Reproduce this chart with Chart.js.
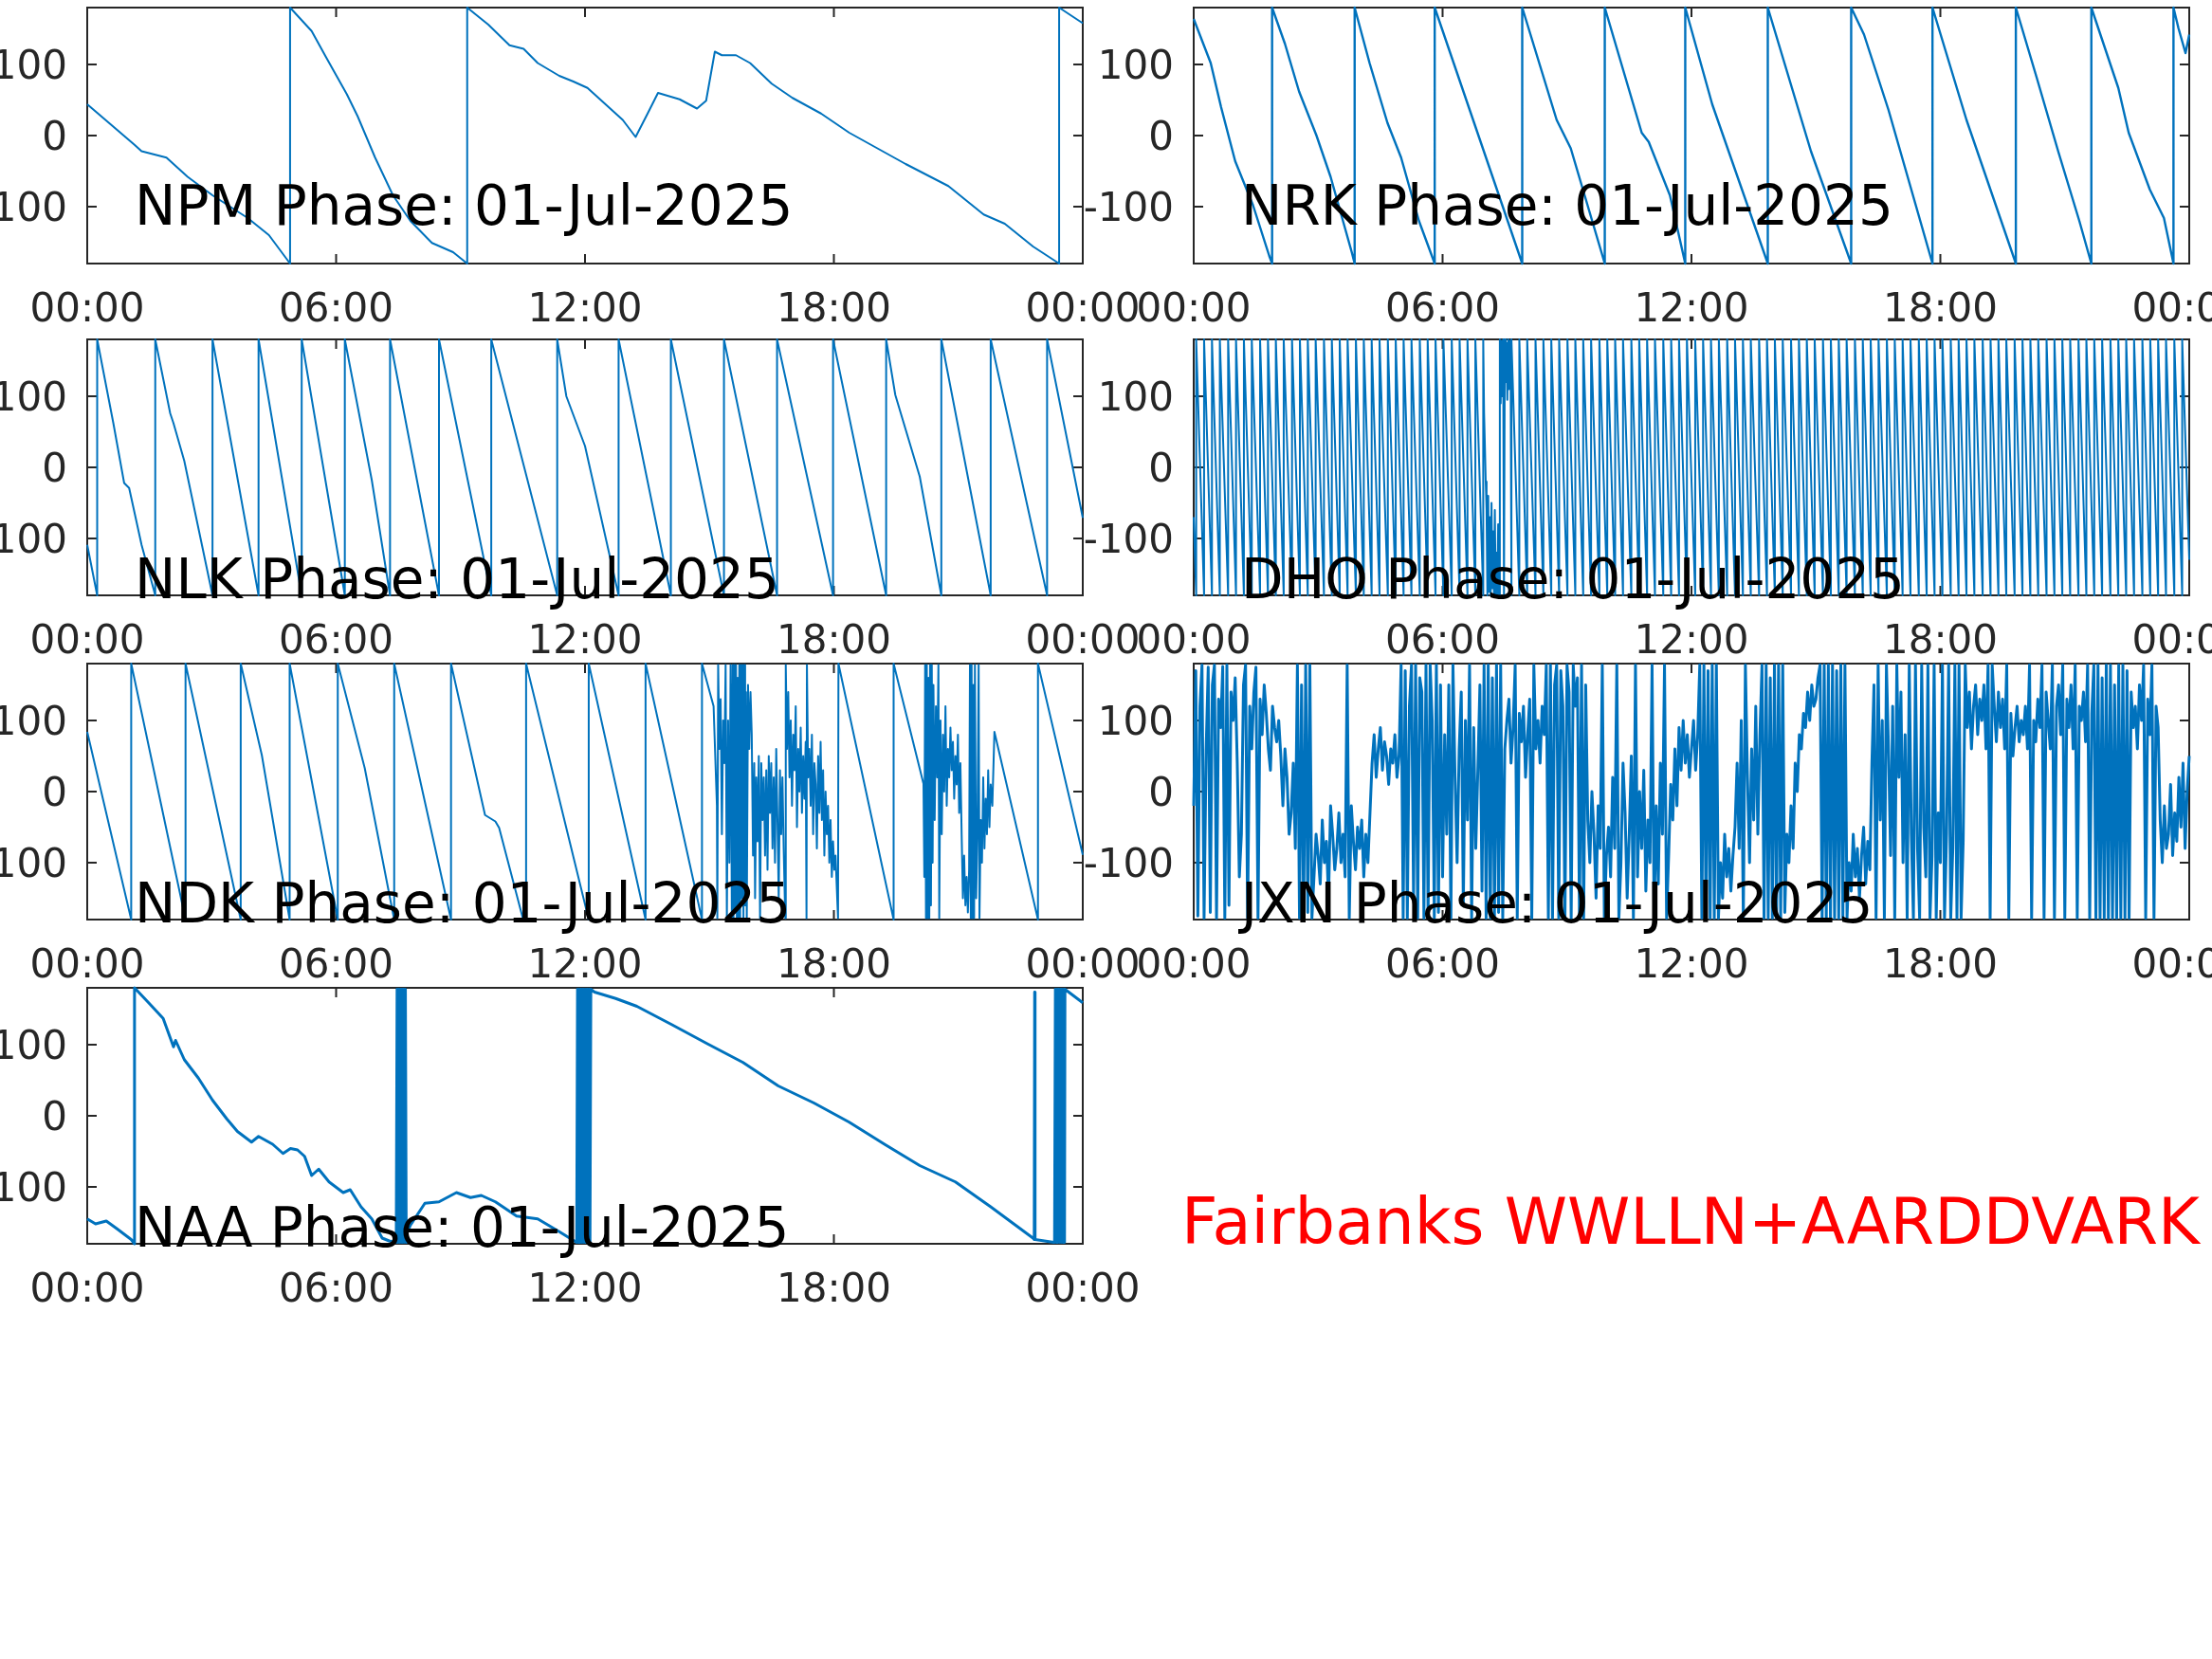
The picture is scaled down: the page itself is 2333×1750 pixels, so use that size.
<!DOCTYPE html>
<html lang="en">
  <head>
    <meta charset="UTF-8" />
    <title>VLF Phase 01-Jul-2025</title>
    <script src="https://cdn.jsdelivr.net/npm/chart.js"></script>
    <style>
      html, body { margin: 0; padding: 0; background: #fff; overflow: hidden; }
      body { width: 2333px; height: 1750px; position: relative; }
      canvas { position: absolute; }
      #site {
        position: absolute; left: 1246px; top: 1256px;
        font-family: "DejaVu Sans", sans-serif; font-size: 67px; line-height: 67px;
        color: #ff0000; white-space: nowrap;
      }
    </style>
  </head>
  <body>
    <canvas id="npmChart" width="1270" height="390" style="left:-28px;top:-42px"></canvas>
    <canvas id="nrkChart" width="1270" height="390" style="left:1139px;top:-42px"></canvas>
    <canvas id="nlkChart" width="1270" height="390" style="left:-28px;top:308px"></canvas>
    <canvas id="dhoChart" width="1270" height="390" style="left:1139px;top:308px"></canvas>
    <canvas id="ndkChart" width="1270" height="390" style="left:-28px;top:650px"></canvas>
    <canvas id="jxnChart" width="1270" height="390" style="left:1139px;top:650px"></canvas>
    <canvas id="naaChart" width="1270" height="390" style="left:-28px;top:992px"></canvas>
    <div id="site">Fairbanks WWLLN+AARDDVARK</div>

    <script>
      // axes
      const hourTicks = [0, 6, 12, 18, 24];
      const hourLabels = ["00:00", "06:00", "12:00", "18:00", "00:00"];
      const phaseTicks = [-100, 0, 100];
      const dateLabel = "01-Jul-2025";

      // NPM (hours, degrees) - a wrap is two points at the same hour
      const npmHours = [0, 1.14, 1.31, 1.91, 2.42, 3.02, 3.87, 4.38, 4.89, 4.89, 5.41, 5.75, 6.26, 6.52, 6.94,
        7.37, 7.79, 8.31, 8.82, 9.16, 9.16, 9.67, 10.18, 10.52, 10.86, 11.38, 11.72, 12.06, 12.40, 12.91,
        13.22, 13.51, 13.76, 14.28, 14.70, 14.92, 15.13, 15.30, 15.64, 15.98, 16.50, 17.00, 17.69, 18.37,
        19.05, 19.73, 20.76, 21.61, 22.12, 22.80, 23.43, 23.43, 24.0];
      const npmPhase = [44, -13, -22, -31, -58, -84, -116, -140, -180, 180, 147, 111, 58, 27, -31,
        -84, -120, -151, -164, -180, 180, 156, 127, 122, 102, 84, 76, 67, 49, 22,
        -2, 31, 60, 51, 38, 49, 118, 113, 113, 102, 73, 53, 31, 4,
        -18, -40, -71, -111, -124, -156, -180, 180, 158];

      // NRK
      const nrkHours = [0, 0.41, 0.66, 1.00, 1.43, 1.82, 1.89, 1.89, 2.20, 2.54, 2.96, 3.30, 3.81, 3.88, 3.88,
        4.24, 4.67, 5.00, 5.43, 5.81, 5.81, 7.92, 7.92, 8.75, 9.09, 9.91, 9.91, 10.80, 10.97, 11.48,
        11.85, 11.85, 12.50, 13.84, 13.84, 14.88, 15.85, 15.85, 16.16, 16.75, 17.81, 17.81, 18.63,
        19.82, 19.82, 20.33, 20.84, 21.35, 21.64, 21.64, 22.29, 22.54, 23.05, 23.39, 23.62, 23.62,
        23.74, 23.91, 24.0];
      const nrkPhase = [164, 102, 40, -36, -98, -169, -180, 180, 129, 62, 0, -58, -164, -180, 180,
        102, 18, -31, -120, -180, 180, -180, 180, 22, -18, -180, 180, 4, -9, -84,
        -180, 180, 44, -180, 180, -22, -180, 180, 142, 36, -180, 180, 22,
        -180, 180, 80, -22, -120, -180, 180, 67, 4, -76, -116, -180, 180,
        151, 116, 142];

      // NLK
      const nlkHours = [0, 0.24, 0.24, 0.63, 0.89, 1.01, 1.31, 1.64, 1.64, 2.00, 2.08, 2.34, 3.02, 3.02,
        4.13, 4.13, 5.17, 5.17, 6.21, 6.21, 6.86, 7.30, 7.30, 8.48, 8.48, 9.74, 9.74, 11.33, 11.33,
        11.55, 12.00, 12.81, 12.81, 14.07, 14.07, 15.35, 15.35, 16.63, 16.63, 17.98, 17.98, 19.26,
        19.26, 19.48, 20.07, 20.59, 20.59, 21.78, 21.78, 23.14, 23.14, 24.0];
      const nlkPhase = [-109, -180, 180, 62, -22, -29, -109, -180, 180, 76, 62, 9, -180, 180,
        -180, 180, -180, 180, -180, 180, -18, -180, 180, -180, 180, -180, 180, -180, 180,
        100, 30, -180, 180, -180, 180, -180, 180, -180, 180, -180, 180, -180,
        180, 102, -13, -180, 180, -180, 180, -180, 180, -71];

      // DHO: hours of the -180 -> +180 wraps, plus the disturbed stretch near 07:15
      const dhoStartPhase = -70;
      const dhoEndPhase = -130;
      const dhoWraps = [0.06, 0.25, 0.44, 0.63, 0.83, 1.02, 1.21, 1.40, 1.60, 1.79,
        1.98, 2.17, 2.37, 2.56, 2.75, 2.94, 3.14, 3.33, 3.52, 3.71,
        3.91, 4.10, 4.29, 4.48, 4.68, 4.87, 5.06, 5.25, 5.45, 5.64,
        5.83, 6.02, 6.22, 6.41, 6.60, 6.79, 6.98, 7.66, 7.85, 8.04,
        8.24, 8.43, 8.62, 8.81, 9.01, 9.20, 9.39, 9.58, 9.78, 9.97,
        10.16, 10.35, 10.55, 10.74, 10.93, 11.12, 11.32, 11.51, 11.70, 11.89,
        12.09, 12.28, 12.47, 12.66, 12.86, 13.05, 13.24, 13.43, 13.63, 13.82,
        14.01, 14.20, 14.40, 14.59, 14.78, 14.97, 15.17, 15.36, 15.55, 15.74,
        15.94, 16.13, 16.32, 16.51, 16.71, 16.90, 17.09, 17.28, 17.48, 17.67,
        17.86, 18.05, 18.25, 18.44, 18.63, 18.82, 19.02, 19.21, 19.40, 19.59,
        19.79, 19.98, 20.17, 20.36, 20.56, 20.75, 20.94, 21.13, 21.33, 21.52,
        21.71, 21.90, 22.10, 22.29, 22.48, 22.67, 22.87, 23.06, 23.25, 23.44,
        23.64, 23.83];
      const dhoBurstHours = [7.00, 7.02, 7.04, 7.06, 7.08, 7.10, 7.12, 7.14, 7.16, 7.18, 7.20, 7.22, 7.24,
        7.26, 7.28, 7.30, 7.32, 7.34, 7.36, 7.38, 7.40, 7.42, 7.44, 7.46, 7.48, 7.50, 7.52, 7.54,
        7.56, 7.58, 7.60, 7.62, 7.64];
      const dhoBurstPhase = [77, 30, -20, -60, -180, -40, -175, -70, -180, -50, -170, -90, -180,
        -60, -180, -120, -178, -80, -180, 180, 90, 178, 100, 180, -180, 180, 120, 175,
        95, 180, 110, 178, 150];

      // NDK
      const ndkHours = [0, 1.06, 1.06, 2.37, 2.37, 3.70, 3.70, 4.21, 4.88, 4.88, 6.04, 6.04, 6.69, 7.40, 7.40,
        8.77, 8.77, 9.59, 9.84, 9.93, 10.50, 10.58, 10.58, 12.09, 12.09, 13.46, 13.46, 14.82, 14.82,
        15.10, 15.18, 15.19, 15.21,
        15.24, 15.27, 15.30, 15.33, 15.36, 15.39, 15.42, 15.45, 15.48, 15.51, 15.54, 15.56, 15.58,
        15.60, 15.62, 15.64, 15.66, 15.68, 15.70, 15.72, 15.74, 15.76, 15.78, 15.80, 15.82, 15.84,
        15.86, 15.88, 15.90, 15.93, 15.96, 15.99, 16.02, 16.05, 16.08, 16.10, 16.13, 16.16, 16.19,
        16.22, 16.25, 16.28, 16.31, 16.34, 16.37, 16.40, 16.43, 16.46, 16.49, 16.52, 16.55, 16.58,
        16.61, 16.64, 16.67, 16.70, 16.73, 16.76, 16.79, 16.82, 16.83, 16.84, 16.87, 16.90, 16.93,
        16.96, 16.99, 17.02, 17.05, 17.08, 17.11, 17.14, 17.17, 17.20, 17.23, 17.26, 17.29, 17.32,
        17.34, 17.35, 17.38, 17.41, 17.44, 17.47, 17.50, 17.53, 17.56, 17.59, 17.62, 17.65, 17.68,
        17.71, 17.74, 17.77, 17.80, 17.83, 17.86, 17.89, 17.92, 17.95, 17.98, 18.01, 18.04, 18.08,
        18.10, 18.11, 19.44, 19.44,
        20.16, 20.18, 20.20, 20.22, 20.24, 20.26, 20.28, 20.30, 20.32, 20.34, 20.36, 20.38, 20.40,
        20.43, 20.46, 20.49, 20.52, 20.54, 20.57, 20.60, 20.63, 20.66, 20.69, 20.72, 20.75, 20.78,
        20.81, 20.84, 20.87, 20.90, 20.93, 20.96, 20.99, 21.02, 21.05, 21.08, 21.11, 21.14, 21.17,
        21.20, 21.23, 21.26, 21.28, 21.30, 21.32, 21.34, 21.36, 21.38, 21.40, 21.43, 21.46, 21.49,
        21.51, 21.54, 21.57, 21.60, 21.63, 21.66, 21.69, 21.72, 21.75, 21.78, 21.82, 21.87,
        22.92, 22.92, 24.0];
      const ndkPhase = [84, -180, 180, -180, 180, -180, 180, 51, -180, 180, -180, 180, 33, -180, 180,
        -180, 180, -33, -42, -51, -178, -180, 180, -180, 180, -180, 180, -180, 180,
        120, -20, -178, 178,
        60, 130, -60, 100, 40, 178, -178, 100, -100, 178, -178, 178, -178,
        178, -170, 178, -178, 160, -178, 178, -178, 178, -150, 178, -178, 178,
        -160, 140, -178, 150, 60, 140, 80, -90, 40, -150, 20, -70, 50,
        -178, 40, -40, 20, -90, 30, -110, 50, -30, 40, -80, 20, -100,
        60, -40, -150, 30, -60, 20, -80, -160, -178, 178, 60, 140, 20,
        100, -20, 80, 30, 120, -50, 60, 0, 90, -30, 50, -10, 70,
        -178, 178, 20, 60, -20, 80, -60, 40, 10, -80, 50, -30, 70,
        -40, 30, -90, 0, -60, -20, -100, -40, -120, -70, -110, -90, -150,
        -178, 180, -180, 180,
        11, -120, 178, -178, 178, -178, 160, -178, 178, -160, 178, -100, 150,
        -40, 120, 20, 178, -178, 100, -60, 80, 0, 120, -20, 60, 20,
        90, 30, 70, -10, 50, 10, 80, -30, 40, -60, -150, -90, -160,
        -120, -170, -110, 178, -178, 178, -178, 150, -178, 178, -150, -60, 178,
        -178, -40, -100, 20, -80, -10, -60, 30, -50, 10, -20, 84,
        -180, 180, -89];

      // JXN: one reading every 3 minutes (0.05 h), one row per hour
      const jxnStepHours = 0.05;
      const jxnPhase = [
        -20, 170, -175, 120, 178, -178, 60, 175, -170, 150, 178, -178, 130, 90, 176, -178, 178, -160, 140, 100,
        160, 40, -120, -60, 150, 178, -178, 120, 60, 140, 175, -178, 130, 80, 150, 110, 60, 30, 120, 90,
        70, 100, 50, -20, 60, 20, -60, -30, 40, -80, 178, -178, 150, -178, 178, -170, 178, -178, -120, -60,
        -90, -130, -40, -100, -70, -150, -20, -60, -110, -80, -30, -100, -60, -120, 178, -178, -20, -70, -110, -50,
        -80, -40, -120, -60, -100, -30, 40, 80, 20, 60, 90, 30, 70, 50, 10, 60, 40, 80, 20, 50,
        178, -178, 170, -178, 120, 178, -150, 178, -178, 160, 140, -178, 178, -178, 178, 100, -178, 178, -170, 150,
        -120, 80, -60, 150, -178, 178, 20, -100, 60, 140, -160, 100, -40, 178, -178, 90, -80, 30, 150, -140,
        178, -178, 178, -178, 160, -178, 178, -170, 178, -178, 60, 100, 130, 40, 90, 178, -178, 110, 70, 120,
        20, 80, 130, -178, 178, 60, 100, 40, 120, 80, 178, -178, 178, -178, 150, 178, -178, 170, 120, -178,
        178, 140, -178, 178, 120, 160, -178, 178, -178, 150, -40, -100, 0, -60, -150, -20, -80, 178, -178, -90,
        -50, -120, 20, -80, 178, -178, -100, 40, -30, -150, -60, 50, -178, 178, -120, 0, -80, 30, -140, -40,
        -100, 178, -178, -20, -130, 40, -60, 178, -178, -90, 10, -40, 60, -20, 90, 30, 100, 40, 80, 20,
        60, 100, 30, 80, 178, -178, 178, -178, 170, -178, 178, -178, 178, -178, -100, -150, -60, -120, -80, -140,
        -90, -50, 40, -80, 100, -178, 178, 20, -100, 60, -40, 120, -60, 80, 178, -178, 178, -178, 160, -178,
        178, -178, 178, -178, 178, -170, -60, -100, -20, -80, 40, 0, 80, 60, 110, 90, 140, 100, 150, 120,
        130, 160, 178, -178, 178, -178, 178, -178, 178, -178, 170, -178, 178, -178, 178, -178, -100, -140, -60, -120,
        -80, -150, -90, -50, -130, -70, -110, 40, 150, -178, 178, -40, 100, -178, 178, 60, -90, 120, -178, 178,
        20, 140, -100, 80, -178, 178, -60, -178, 178, -80, -178, 178, -50, -120, 178, -178, -90, 178, -178, -30,
        -100, 178, -178, -60, 178, -178, -80, 178, -178, 178, -178, -70, 178, 90, 140, 60, 120, 150, 80, 130,
        100, 150, 60, 178, -178, 178, 120, 70, 140, 90, 130, 60, 178, -178, 110, 50, 90, 120, 70, 100,
        80, 120, 60, 178, -178, 100, 70, 130, 90, 178, -178, 140, 100, 60, 178, -178, 120, 150, 80, 178,
        -178, 130, 90, 150, 60, 178, -178, 120, 100, 140, 70, 178, -178, 110, 178, -178, 178, -178, 160, -178,
        178, -178, 178, -178, 150, -178, 178, -178, 178, -178, 170, -178, 140, 90, 120, 60, 150, 100, 178, -178,
        130, 80, 178, -178, 120, 90, -40, -100, -20, -80, -60, 10, -90, -30, -70, 20, -50, 40, -80, 0,
        50];

      // NAA
      const naaHours = [0, 0.20, 0.46, 0.72, 1.06, 1.14, 1.14, 1.48, 1.83, 2.08, 2.13, 2.34, 2.68, 3.02, 3.36,
        3.62, 3.96, 4.13, 4.47, 4.72, 4.90, 5.07, 5.24, 5.41, 5.58, 5.83, 6.17, 6.34, 6.60, 6.86,
        7.11, 7.28,
        7.45, 7.47, 7.49, 7.51, 7.53, 7.55, 7.57, 7.59, 7.61, 7.63, 7.65, 7.67, 7.69, 7.71,
        7.79, 8.14, 8.48, 8.90, 9.24, 9.50, 9.84, 10.35, 10.86, 11.38, 11.63,
        11.80, 11.82, 11.84, 11.86, 11.88, 11.90, 11.92, 11.94, 11.96, 11.98, 12.00, 12.02, 12.04,
        12.06, 12.08, 12.10, 12.12, 12.14,
        12.23, 12.74, 13.25, 14.10, 14.96, 15.81, 16.66, 17.52, 18.37, 19.22, 20.07, 20.93, 21.78,
        22.80, 22.83, 22.84, 22.85, 23.30,
        23.32, 23.34, 23.36, 23.38, 23.40, 23.42, 23.44, 23.46, 23.48, 23.50, 23.52, 23.54, 23.56,
        23.57, 24.0];
      const naaPhase = [-145, -152, -148, -159, -174, -180, 180, 159, 137, 97, 106, 79, 53, 22, -4,
        -22, -37, -29, -40, -53, -46, -48, -57, -84, -75, -93, -108, -104, -128, -145,
        -172, -176,
        -178, 178, -178, 178, -178, 178, -178, 178, -178, 178, -178, 178, -178, -165,
        -154, -123, -121, -108, -115, -112, -121, -141, -145, -163, -172,
        -178, 178, -178, 178, -178, 178, -178, 178, -178, 178, -178, 178, -178,
        178, -178, 178, -178, 178,
        174, 165, 154, 128, 101, 75, 42, 18, -9, -40, -70, -93, -128,
        -172, -174, 174, -174, -178,
        -178, 178, -178, 178, -178, 178, -178, 178, -178, 178, -178, 178, -178,
        178, 159];

      function toPoints(hours, phase) {
        return hours.map((h, i) => ({ x: h, y: phase[i] }));
      }

      function sawtooth(wraps, startPhase, endPhase) {
        const pts = [{ x: 0, y: startPhase }];
        wraps.forEach((w) => pts.push({ x: w, y: -180 }, { x: w, y: 180 }));
        pts.push({ x: 24, y: endPhase });
        return pts;
      }

      const dhoPoints = sawtooth(dhoWraps, dhoStartPhase, dhoEndPhase)
        .concat(toPoints(dhoBurstHours, dhoBurstPhase))
        .sort((a, b) => a.x - b.x);
      const jxnPoints = jxnPhase.map((v, i) => ({ x: i * jxnStepHours, y: v }));

      // box, inward ticks and the station label
      const axesBox = {
        id: "axesBox",
        beforeDatasetsDraw(chart) {
          const { ctx, chartArea: a, scales } = chart;
          ctx.save();
          ctx.strokeStyle = "#262626";
          ctx.lineWidth = 2;
          ctx.strokeRect(a.left, a.top, a.right - a.left, a.bottom - a.top);
          ctx.beginPath();
          hourTicks.forEach((h) => {
            const px = scales.x.getPixelForValue(h);
            ctx.moveTo(px, a.bottom); ctx.lineTo(px, a.bottom - 10);
            ctx.moveTo(px, a.top); ctx.lineTo(px, a.top + 10);
          });
          phaseTicks.forEach((p) => {
            const py = scales.y.getPixelForValue(p);
            ctx.moveTo(a.left, py); ctx.lineTo(a.left + 10, py);
            ctx.moveTo(a.right, py); ctx.lineTo(a.right - 10, py);
          });
          ctx.stroke();
          ctx.restore();
        },
        afterDatasetsDraw(chart, args, opts) {
          const { ctx, chartArea: a } = chart;
          ctx.save();
          ctx.fillStyle = "#000";
          ctx.font = '58px "DejaVu Sans"';
          ctx.textBaseline = "alphabetic";
          ctx.fillText(opts.title, a.left + 50, a.top + opts.titleDy);
          ctx.restore();
        },
      };

      Chart.defaults.font.family = '"DejaVu Sans", sans-serif';

      function createPhaseChart(canvasId, points, station, titleDy, lineWidth) {
        const ctx = document.getElementById(canvasId).getContext("2d");
        new Chart(ctx, {
          type: "line",
          data: {
            datasets: [
              {
                data: points,
                borderColor: "#0072BD",
                borderWidth: lineWidth,
                borderJoinStyle: "round",
                pointRadius: 0,
                tension: 0,
                fill: false,
                clip: false,
              },
            ],
          },
          options: {
            responsive: false,
            animation: false,
            events: [],
            layout: { padding: { left: 0, top: 50, right: 100, bottom: 0 } },
            plugins: {
              legend: { display: false },
              tooltip: { enabled: false },
              axesBox: { title: station + " Phase: " + dateLabel, titleDy: titleDy },
            },
            scales: {
              x: {
                type: "linear",
                min: 0,
                max: 24,
                grid: { display: false, drawTicks: false },
                border: { display: false },
                afterBuildTicks: (s) => { s.ticks = hourTicks.map((v) => ({ value: v })); },
                afterFit: (s) => { s.height = 70; },
                ticks: {
                  autoSkip: false,
                  maxRotation: 0,
                  padding: 25,
                  color: "#262626",
                  font: { size: 42 },
                  callback: (v, i) => hourLabels[i],
                },
              },
              y: {
                type: "linear",
                min: -180,
                max: 180,
                grid: { display: false, drawTicks: false },
                border: { display: false },
                afterBuildTicks: (s) => { s.ticks = phaseTicks.map((v) => ({ value: v })); },
                afterFit: (s) => { s.width = 120; },
                ticks: {
                  padding: 21,
                  labelOffset: 4,
                  color: "#262626",
                  font: { size: 42 },
                  callback: (v) => String(v),
                },
              },
            },
          },
          plugins: [axesBox],
        });
      }

      createPhaseChart("npmChart", toPoints(npmHours, npmPhase), "NPM", 229, 2);
      createPhaseChart("nrkChart", toPoints(nrkHours, nrkPhase), "NRK", 229, 2.4);
      createPhaseChart("nlkChart", toPoints(nlkHours, nlkPhase), "NLK", 273, 2);
      createPhaseChart("dhoChart", dhoPoints, "DHO", 273, 2);
      createPhaseChart("ndkChart", toPoints(ndkHours, ndkPhase), "NDK", 273, 2);
      createPhaseChart("jxnChart", jxnPoints, "JXN", 273, 3);
      createPhaseChart("naaChart", toPoints(naaHours, naaPhase), "NAA", 273, 3);
    </script>
  </body>
</html>
